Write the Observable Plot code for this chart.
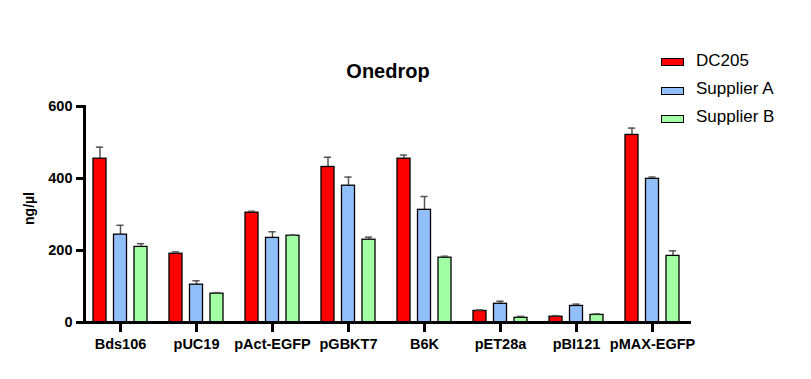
<!DOCTYPE html>
<html><head><meta charset="utf-8">
<script src="https://cdn.jsdelivr.net/npm/d3@7"></script>
<script src="https://cdn.jsdelivr.net/npm/@observablehq/plot@0.6"></script>
<style>
body{margin:0;background:#fff;font-family:"Liberation Sans",Arial,sans-serif;}
#wrap{position:relative;width:811px;height:379px;}
.leg{position:absolute;font-size:17px;line-height:17px;color:#000;white-space:nowrap}
.sw{position:absolute;box-sizing:border-box;border:1.3px solid #000;width:23px;height:8px}
</style></head><body><div id="wrap"></div>
<script>
const title = "Onedrop";
const yLabel = "ng/µl";
const groups = ["Bds106","pUC19","pAct-EGFP","pGBKT7","B6K","pET28a","pBI121","pMAX-EGFP"];
const seriesNames = ["DC205","Supplier A","Supplier B"];
const seriesColors = ["#FF0000","#91BFFA","#A3FFA3"];
const dc205 =     [455, 191, 305, 432, 455, 32, 16, 521];
const dc205Err =  [ 32,   5,   4,  27,  10,  3,  3,  19];
const supplierA = [244, 105, 235, 380, 313, 52, 46, 399];
const supplierAErr = [26, 11, 17, 24, 37, 7, 5, 5];
const supplierB = [210, 80, 241, 230, 180, 13, 21, 185];
const supplierBErr = [9, 3, 2, 7, 4, 4, 3, 14];
const yTicks = [0, 200, 400, 600];

const values = [dc205, supplierA, supplierB];
const errs = [dc205Err, supplierAErr, supplierBErr];
const rows = [];
seriesNames.forEach((s, k) => groups.forEach((g, i) => rows.push({group: g, series: s, value: values[k][i], err: errs[k][i], top: values[k][i] + errs[k][i]})));

const offsets = [-20.5, 0, 20.5];
const step = (691.5 - 81.2) / groups.length;
const barInset = (step - 13.3) / 2;
const capInset = (step - 7.5) / 2;

const marks = [];
seriesNames.forEach((s, k) => {
  const d = rows.filter(r => r.series === s);
  marks.push(Plot.ruleX(d, {x: "group", y1: "value", y2: "top", dx: offsets[k], stroke: "#555", strokeWidth: 1.5}));
  marks.push(Plot.barY(d, {x: "group", y: "value", dx: offsets[k], fill: seriesColors[k], stroke: "#000", strokeWidth: 1.3, insetLeft: barInset, insetRight: barInset}));
  marks.push(Plot.tickY(d, {x: "group", y: "top", dx: offsets[k], stroke: "#555", strokeWidth: 1.5, insetLeft: capInset, insetRight: capInset}));
});

const chart = Plot.plot({
  width: 811, height: 379,
  marginLeft: 84, marginRight: 120, marginTop: 106, marginBottom: 57,
  style: {fontFamily: "Liberation Sans, Arial, sans-serif", background: "white", color: "#000"},
  x: {type: "band", domain: groups, range: [81.2, 691.5], padding: 0},
  y: {domain: [0, 600]},
  marks: [
    ...marks,
    Plot.axisY({ticks: yTicks, tickSize: 8, tickPadding: 4, strokeWidth: 3, fontSize: 14.5, fontWeight: "bold", label: null}),
    Plot.axisX({tickSize: 10, tickPadding: 6, strokeWidth: 3, fontSize: 14.5, fontWeight: "bold", label: null}),
    Plot.frame({anchor: "left", strokeWidth: 3}),
    Plot.ruleY([0], {strokeWidth: 3, insetLeft: -1.5}),
    Plot.text([title], {text: d => d, frameAnchor: "top", lineAnchor: "middle", dy: -35, fontSize: 20, fontWeight: "bold"}),
    Plot.text([yLabel], {text: d => d, frameAnchor: "left", textAnchor: "middle", lineAnchor: "middle", dx: -55, dy: -6, rotate: -90, fontSize: 14, fontWeight: "bold"})
  ]
});
const wrap = document.getElementById("wrap");
wrap.appendChild(chart);
seriesNames.forEach((s, k) => {
  const sw = document.createElement("div");
  sw.className = "sw";
  sw.style.left = "660.5px";
  sw.style.top = (58.3 + k * 28.3) + "px";
  sw.style.background = seriesColors[k];
  wrap.appendChild(sw);
  const t = document.createElement("div");
  t.className = "leg";
  t.textContent = s;
  t.style.left = "696px";
  t.style.top = (51.7 + k * 28.3) + "px";
  wrap.appendChild(t);
});
</script></body></html>
